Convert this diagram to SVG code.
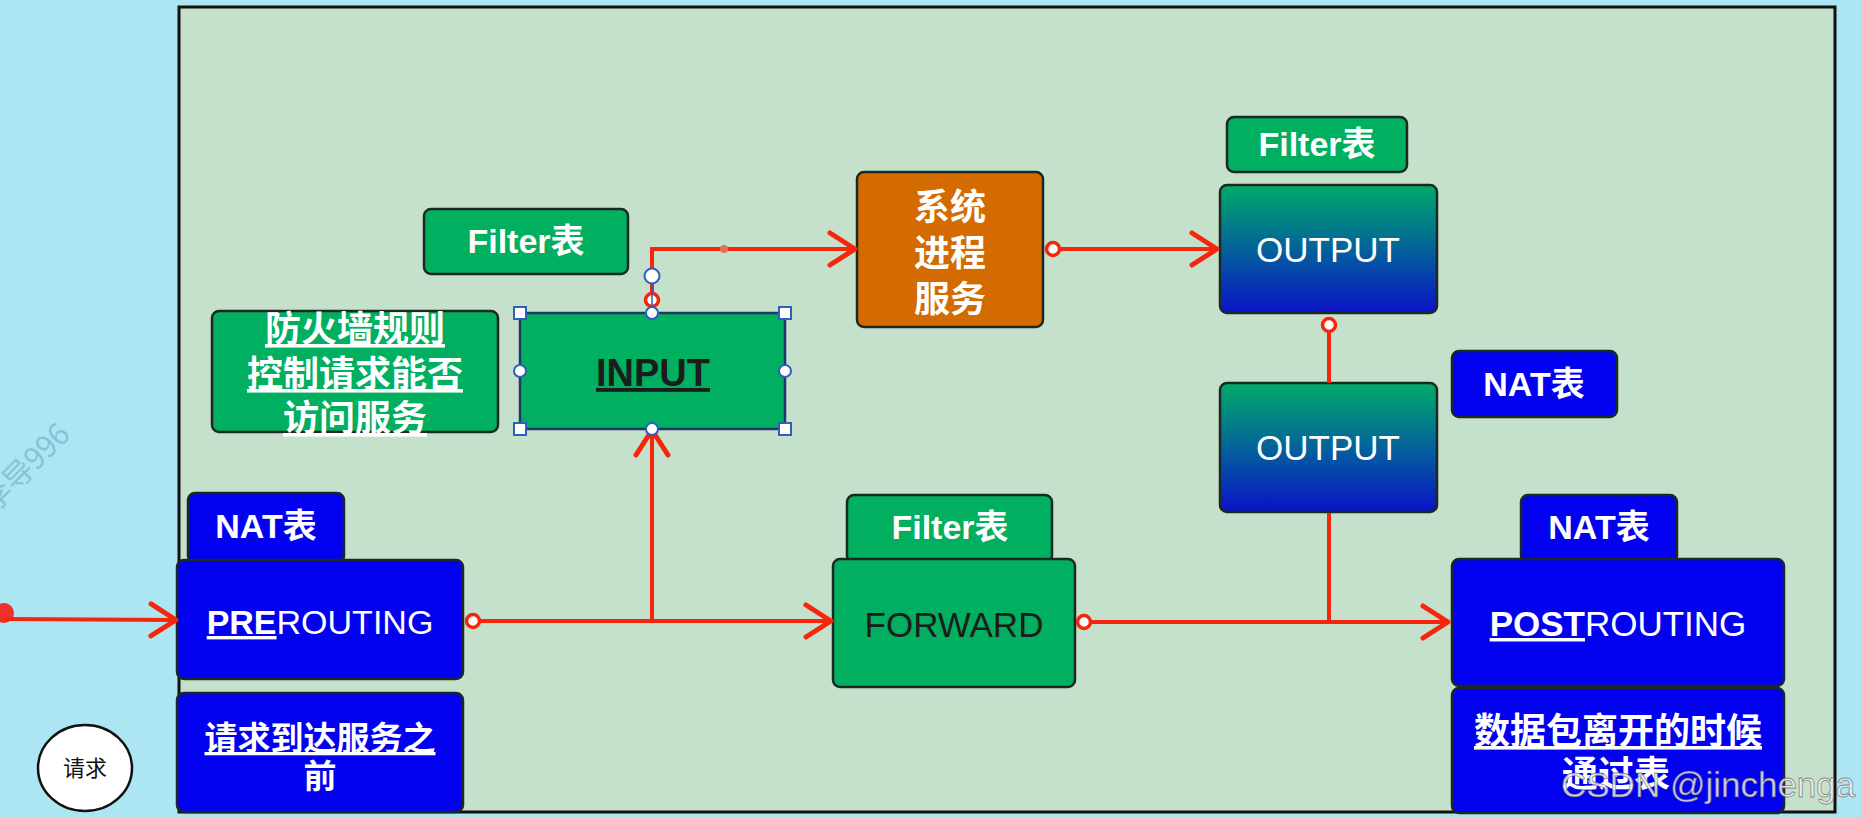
<svg xmlns="http://www.w3.org/2000/svg" width="1861" height="817" viewBox="0 0 1861 817">
<style>
.box{stroke:#1c2824;stroke-width:2.5}
.green{fill:#00af5f}
.blue{fill:#0202f0}
.orange{fill:#d46b00}
.grad{fill:url(#outGrad)}
.t{font-family:"Liberation Sans","Noto Sans CJK SC",sans-serif;text-anchor:middle}
.cjk{font-family:"Noto Sans CJK SC","Liberation Sans",sans-serif;text-anchor:middle}
.w{fill:#ffffff}
.d{fill:#1c1c1c}
.b{font-weight:bold}
.tag{font-size:34px;font-weight:bold;fill:#ffffff}
.conn{stroke:#f5260c;stroke-width:4;fill:none}
.dot{fill:#ffffff;stroke:#f5260c;stroke-width:3.5}
.h{fill:#ffffff;stroke:#2d5fbf;stroke-width:2}
</style>
<defs>
<linearGradient id="outGrad" x1="0" y1="0" x2="0" y2="1">
<stop offset="0" stop-color="#00ab68"/>
<stop offset="0.5" stop-color="#04629a"/>
<stop offset="1" stop-color="#0a12c8"/>
</linearGradient>
<marker id="arr" viewBox="-32 -22 36 44" markerWidth="36" markerHeight="44" refX="0" refY="0" orient="auto" markerUnits="userSpaceOnUse">
<path d="M-25,-16 L0,0 L-25,16" fill="none" stroke="#f5260c" stroke-width="5" stroke-linecap="round" stroke-linejoin="round"/>
</marker>
</defs>

<rect x="0" y="0" width="1861" height="817" fill="#ade6f3"/>
<text x="-6" y="514" transform="rotate(-45 -6 514)" font-family="Noto Sans CJK SC, sans-serif" font-size="30" fill="#86c3d6">李导996</text>

<rect id="panel" x="179" y="7" width="1656" height="805" fill="#c6e1cb" stroke="#111" stroke-width="3"/>

<g id="filter-input">
<rect class="box green" x="424" y="209" width="204" height="65" rx="7"/>
<text class="t tag" x="526" y="253">Filter表</text>
</g>

<g id="firewall-note">
<rect class="box green" x="212" y="311" width="286" height="121" rx="7"/>
<text class="cjk w b" font-size="36" x="355" y="342" text-decoration="underline">防火墙规则</text>
<text class="cjk w b" font-size="36" x="355" y="387" text-decoration="underline">控制请求能否</text>
<text class="cjk w b" font-size="36" x="355" y="431" text-decoration="underline">访问服务</text>
</g>

<g id="input">
<rect x="520" y="313" width="265" height="116" fill="#00af5f" stroke="#1d3a6a" stroke-width="2.5"/>
<text class="t d b" font-size="38" x="653" y="386" text-decoration="underline">INPUT</text>
</g>

<g id="system-service">
<rect class="box orange" x="857" y="172" width="186" height="155" rx="7"/>
<text class="cjk w b" font-size="36" x="950" y="220">系统</text>
<text class="cjk w b" font-size="36" x="950" y="266">进程</text>
<text class="cjk w b" font-size="36" x="950" y="312">服务</text>
</g>

<g id="filter-output">
<rect class="box green" x="1227" y="117" width="180" height="55" rx="7"/>
<text class="t tag" x="1317" y="156">Filter表</text>
</g>

<g id="output-filter">
<rect class="box grad" x="1220" y="185" width="217" height="128" rx="7"/>
<text class="t w" font-size="35" x="1328" y="262">OUTPUT</text>
</g>

<g id="nat-output">
<rect class="box blue" x="1452" y="351" width="165" height="66" rx="7"/>
<text class="t tag" x="1534" y="396">NAT表</text>
</g>

<g id="output-nat">
<rect class="box grad" x="1220" y="383" width="217" height="129" rx="7"/>
<text class="t w" font-size="35" x="1328" y="460">OUTPUT</text>
</g>

<g id="nat-prerouting">
<rect class="box blue" x="188" y="493" width="156" height="70" rx="7"/>
<text class="t tag" x="266" y="538">NAT表</text>
</g>

<g id="prerouting">
<rect class="box blue" x="177" y="560" width="286" height="119" rx="7"/>
<text class="t w" font-size="34" x="320" y="634"><tspan font-weight="bold" text-decoration="underline">PRE</tspan>ROUTING</text>
</g>

<g id="prerouting-note">
<rect class="box blue" x="177" y="693" width="286" height="119" rx="7"/>
<text class="cjk w b" font-size="33" x="320" y="750" text-decoration="underline">请求到达服务之</text>
<text class="cjk w b" font-size="33" x="320" y="788">前</text>
</g>

<g id="request">
<ellipse cx="85" cy="768" rx="47" ry="43" fill="#ffffff" stroke="#111" stroke-width="2.5"/>
<text class="cjk" font-size="22" fill="#111" x="85" y="776">请求</text>
</g>

<g id="filter-forward">
<rect class="box green" x="847" y="495" width="205" height="68" rx="7"/>
<text class="t tag" x="950" y="539">Filter表</text>
</g>

<g id="forward">
<rect class="box green" x="833" y="559" width="242" height="128" rx="7"/>
<text class="t d" font-size="35" x="954" y="637">FORWARD</text>
</g>

<g id="nat-postrouting">
<rect class="box blue" x="1521" y="495" width="156" height="68" rx="7"/>
<text class="t tag" x="1599" y="539">NAT表</text>
</g>

<g id="postrouting">
<rect class="box blue" x="1452" y="559" width="332" height="127" rx="7"/>
<text class="t w" font-size="35" x="1618" y="636"><tspan font-weight="bold" text-decoration="underline">POST</tspan>ROUTING</text>
</g>

<g id="postrouting-note">
<rect class="box blue" x="1452" y="688" width="332" height="125" rx="7"/>
<text class="cjk w b" font-size="36" x="1618" y="744" text-decoration="underline">数据包离开的时候</text>
<text class="cjk w b" font-size="36" x="1616" y="787">通过表</text>
</g>

<g id="connectors">
<circle cx="4" cy="613" r="10" fill="#f0302a"/>
<path class="conn" d="M4,619 L176,620" marker-end="url(#arr)"/>
<path class="conn" d="M480,621 L831,621" marker-end="url(#arr)"/>
<circle class="dot" cx="473" cy="621" r="6.5"/>
<path class="conn" d="M652,621 L652,430" marker-end="url(#arr)"/>
<path class="conn" d="M652,293 L652,249 L855,249" marker-end="url(#arr)"/>
<circle class="dot" cx="652" cy="300" r="6.5"/>
<circle cx="724" cy="249" r="4" fill="#e0705c"/>
<path class="conn" d="M1061,249 L1217,249" marker-end="url(#arr)"/>
<circle class="dot" cx="1053" cy="249" r="6.5"/>
<path class="conn" d="M1329,333 L1329,383"/>
<circle class="dot" cx="1329" cy="325" r="6.5"/>
<path class="conn" d="M1092,622 L1448,622" marker-end="url(#arr)"/>
<circle class="dot" cx="1084" cy="622" r="6.5"/>
<path class="conn" d="M1329,513 L1329,622"/>
</g>

<g id="selection-handles">
<line x1="652" y1="276" x2="652" y2="313" stroke="#2d5fbf" stroke-width="1.5"/>
<circle class="h" cx="652" cy="276" r="7.5"/>
<rect class="h" x="514" y="307" width="12" height="12"/>
<rect class="h" x="779" y="307" width="12" height="12"/>
<rect class="h" x="514" y="423" width="12" height="12"/>
<rect class="h" x="779" y="423" width="12" height="12"/>
<circle class="h" cx="652" cy="313" r="6"/>
<circle class="h" cx="520" cy="371" r="6"/>
<circle class="h" cx="785" cy="371" r="6"/>
<circle class="h" cx="652" cy="429" r="6"/>
</g>

<text x="1561" y="797" font-family="Liberation Sans, sans-serif" font-size="35" fill="#eeeeee" fill-opacity="0.85" stroke="#444" stroke-width="0.8" stroke-opacity="0.6">CSDN @jinchenga</text>
</svg>
